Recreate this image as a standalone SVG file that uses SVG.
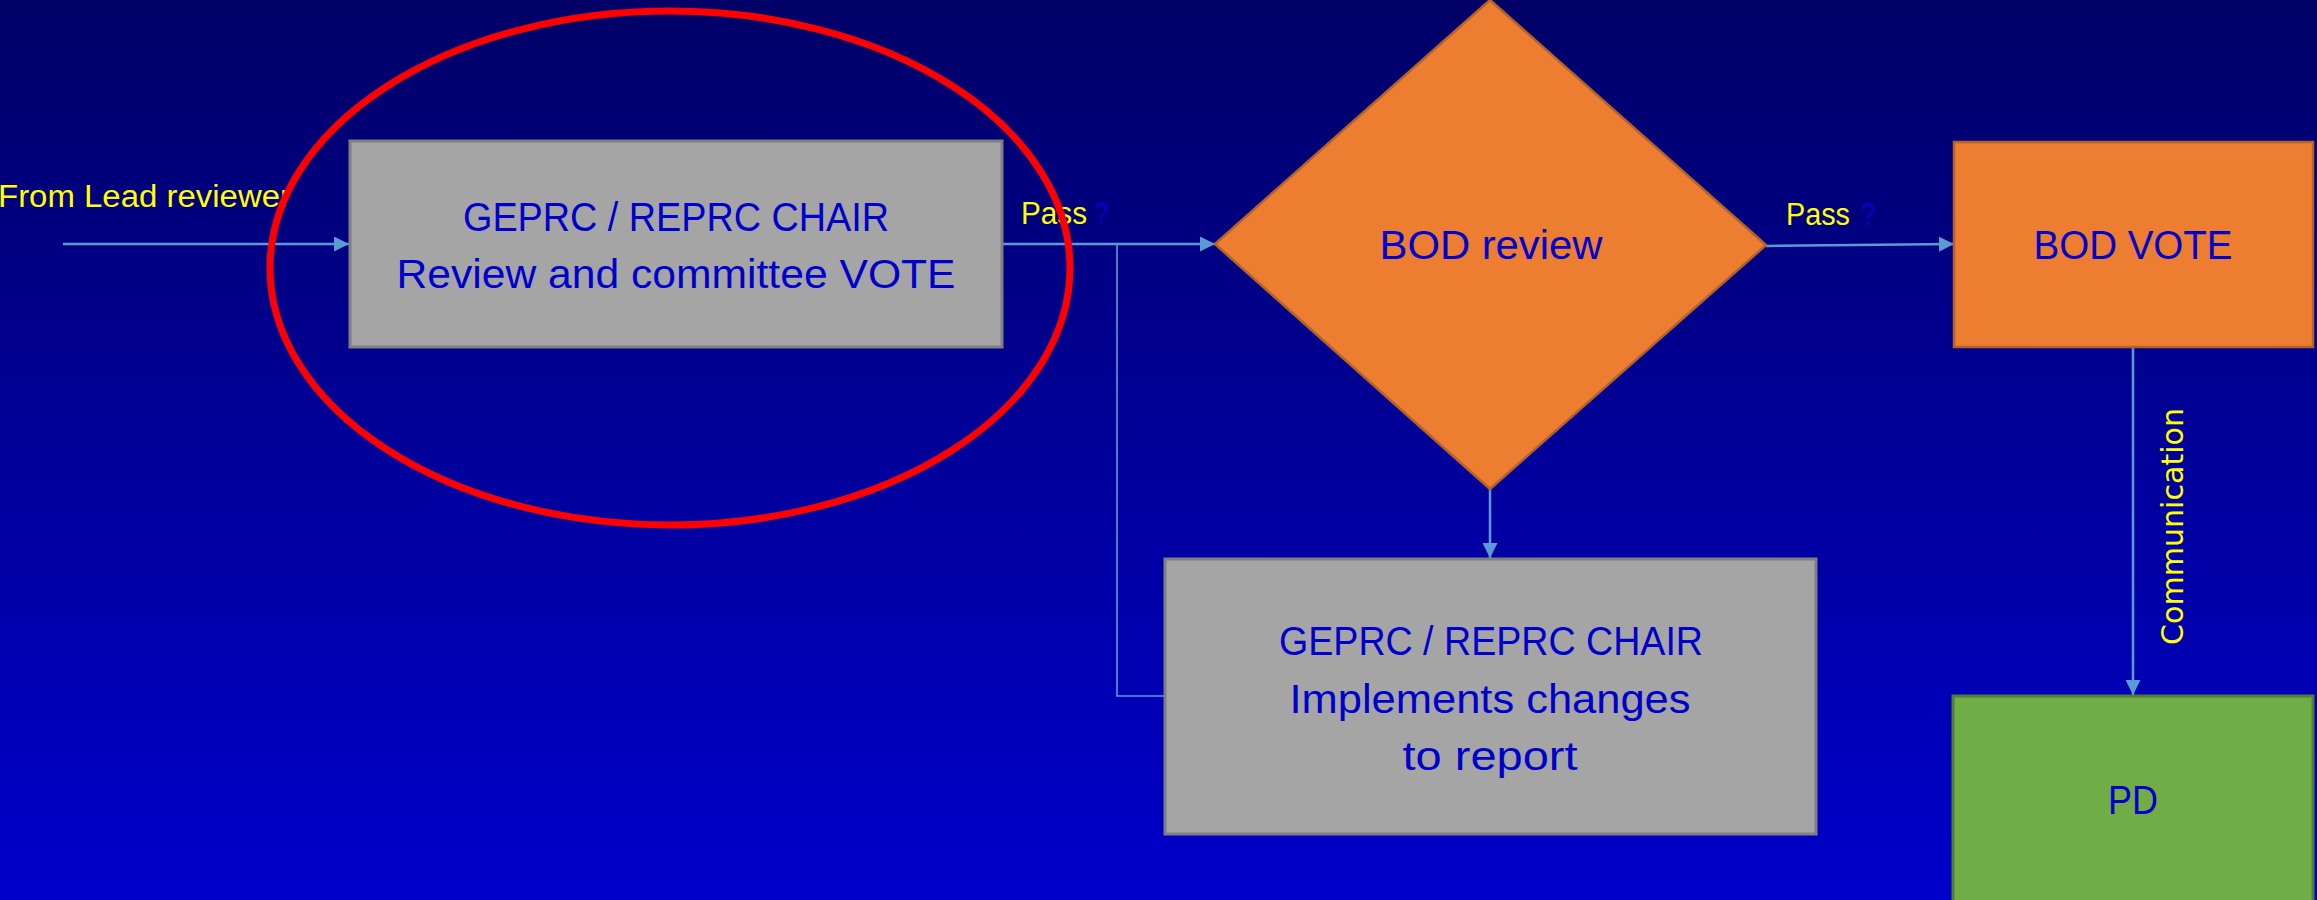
<svg xmlns="http://www.w3.org/2000/svg" width="2317" height="900" viewBox="0 0 2317 900">
<defs>
<linearGradient id="bg" x1="0" y1="0" x2="0" y2="1">
<stop offset="0" stop-color="#000066"/>
<stop offset="1" stop-color="#0000CC"/>
</linearGradient>
<marker id="arr" viewBox="0 0 10 10" refX="10" refY="5" markerWidth="6" markerHeight="6" markerUnits="strokeWidth" orient="auto">
<path d="M0,0 L10,5 L0,10 z" fill="#5B9BD5"/>
</marker>
<style>
.conn{fill:none;stroke:#5B9BD5;stroke-width:2.5}
.thin{fill:none;stroke:#5B9BD5;stroke-width:1.6}
.gray{fill:#A5A5A5;stroke:#7F7F7F;stroke-width:3}
.orange{fill:#ED7D31;stroke:#B5622A;stroke-width:2.5}
.green{fill:#70AD47;stroke:#507E32;stroke-width:3}
.lbl{font-family:"Liberation Sans",Arial,sans-serif;font-size:40px;fill:#0000CC;text-anchor:middle}
.yel{font-family:"Liberation Sans",Arial,sans-serif;font-size:31px;fill:#FFFF00}
.q{font-family:"Liberation Sans",Arial,sans-serif;font-size:31px;fill:#0000CC}
</style>
</defs>
<rect x="0" y="0" width="2317" height="900" fill="url(#bg)"/>

<g id="connectors">
<line class="conn" x1="63" y1="244" x2="349" y2="244" marker-end="url(#arr)"/>
<line class="conn" x1="1002" y1="244" x2="1215" y2="244" marker-end="url(#arr)"/>
<polyline class="thin" points="1117,244 1117,696 1165,696"/>
<line class="conn" x1="1766" y1="246" x2="1954" y2="244" marker-end="url(#arr)"/>
<line class="conn" x1="1490" y1="489" x2="1490" y2="558" marker-end="url(#arr)"/>
<line class="conn" x1="2133" y1="347" x2="2133" y2="695" marker-end="url(#arr)"/>
<text class="yel" x="-2" y="207" textLength="293" lengthAdjust="spacingAndGlyphs">From Lead reviewer</text>
<text class="yel" x="1021" y="224" textLength="66" lengthAdjust="spacingAndGlyphs">Pass</text>
<text class="q" x="1095" y="224" textLength="14" lengthAdjust="spacingAndGlyphs">?</text>
<text class="yel" x="1786" y="225" textLength="64" lengthAdjust="spacingAndGlyphs">Pass</text>
<text class="q" x="1861" y="225" textLength="14" lengthAdjust="spacingAndGlyphs">?</text>
<text transform="translate(2183,526.5) rotate(-90)" font-family="'DejaVu Sans',Verdana,sans-serif" font-size="30" fill="#FFFF00" text-anchor="middle" textLength="237" lengthAdjust="spacingAndGlyphs">Communication</text>
</g>

<g id="node-chair-vote">
<rect class="gray" x="350" y="141" width="652" height="206"/>
<text class="lbl" x="676" y="231" textLength="426" lengthAdjust="spacingAndGlyphs">GEPRC / REPRC CHAIR</text>
<text class="lbl" x="676" y="288" textLength="559" lengthAdjust="spacingAndGlyphs">Review and committee VOTE</text>
</g>

<g id="node-bod-review">
<polygon class="orange" points="1490,0 1766,245 1490,489 1215,244"/>
<text class="lbl" x="1491" y="259" textLength="223" lengthAdjust="spacingAndGlyphs">BOD review</text>
</g>

<g id="node-bod-vote">
<rect class="orange" x="1954" y="142" width="359" height="205"/>
<text class="lbl" x="2133" y="259" textLength="199" lengthAdjust="spacingAndGlyphs">BOD VOTE</text>
</g>

<g id="node-chair-changes">
<rect class="gray" x="1165" y="559" width="651" height="275"/>
<text class="lbl" x="1491" y="655" textLength="424" lengthAdjust="spacingAndGlyphs">GEPRC / REPRC CHAIR</text>
<text class="lbl" x="1490" y="713" textLength="401" lengthAdjust="spacingAndGlyphs">Implements changes</text>
<text class="lbl" x="1490" y="770" textLength="175" lengthAdjust="spacingAndGlyphs">to report</text>
</g>

<g id="node-pd">
<rect class="green" x="1953" y="696" width="360" height="220"/>
<text class="lbl" x="2133" y="814" textLength="50" lengthAdjust="spacingAndGlyphs">PD</text>
</g>

<g id="highlight">
<ellipse cx="670" cy="268" rx="400" ry="257" fill="none" stroke="#FF0000" stroke-width="7"/>
</g>
</svg>
